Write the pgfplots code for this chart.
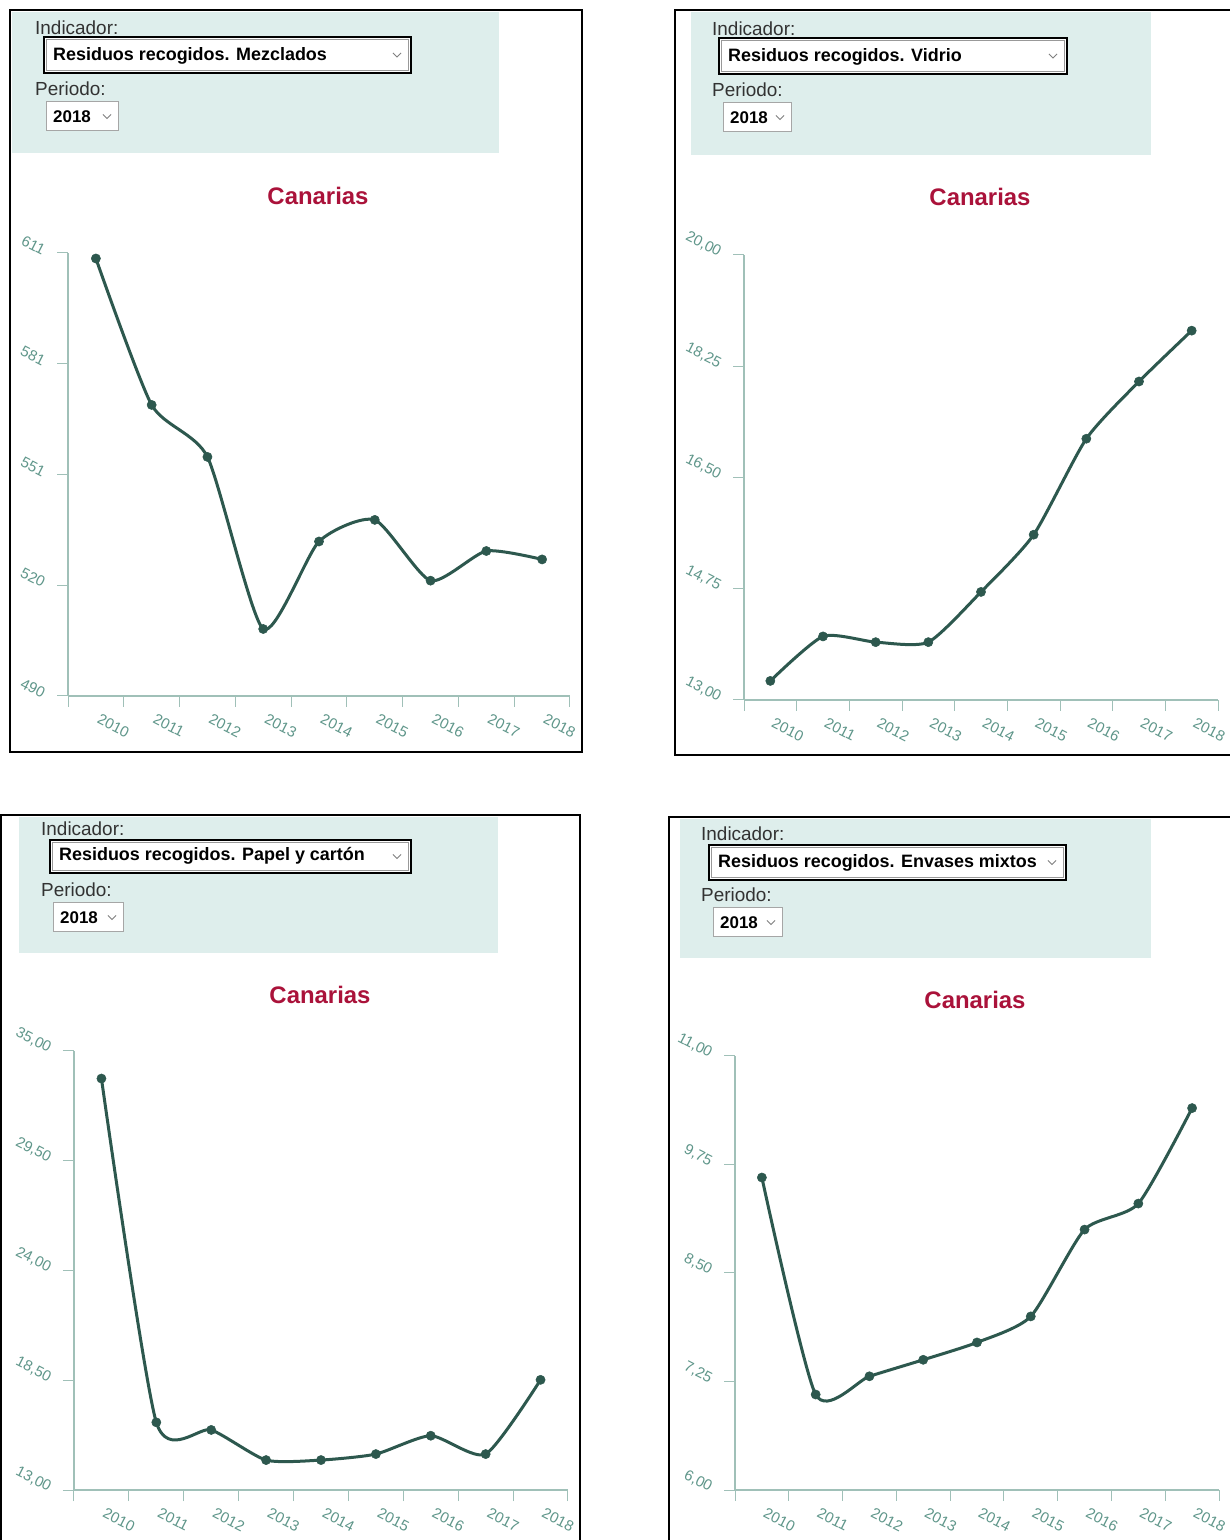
\documentclass[border=0pt]{standalone}
\usepackage{pgfplots}
\pgfplotsset{compat=1.18}
\usepackage{fontspec}
\setmainfont{Liberation Sans}
\setsansfont{Liberation Sans}
\definecolor{boxbg}{RGB}{222,238,236}
\definecolor{linec}{RGB}{45,88,78}
\definecolor{axc}{RGB}{160,192,184}
\definecolor{tickc}{RGB}{95,150,138}
\definecolor{titc}{RGB}{170,18,58}
\definecolor{labc}{RGB}{50,50,50}

\pgfplotsset{
  panel/.style={
    scale only axis, clip=false, anchor=south west,
    axis x line*=bottom, axis y line*=left,
    axis line style={draw=axc, line width=1.2bp},
    tick style={draw=axc, line width=1bp},
    major tick length=11bp, tick align=outside,
    xmin=-0.5, xmax=8.5,
    xtick={-0.5,0.5,...,8.5}, xticklabels={},
    extra x ticks={0,1,2,3,4,5,6,7,8},
    extra x tick labels={2010,2011,2012,2013,2014,2015,2016,2017,2018},
    extra x tick style={tick style={draw=none}},
    xticklabel style={font=\fontsize{15}{15}\selectfont, text=tickc, rotate=-27, anchor=north west, xshift=4bp, yshift=0bp},
    yticklabel style={font=\fontsize{15}{15}\selectfont, text=tickc, rotate=-27, anchor=east, xshift=-9bp, yshift=-4bp},
    /pgf/number format/assume math mode=true,
  },
  ser/.style={smooth, tension=0.38, color=linec, line width=3bp, mark=*, mark size=4.6bp,
    mark options={fill=linec, draw=linec, line width=0.5bp}},
}

\newcommand{\dropdown}[5]{%
  \fill[white] (#1,#2) rectangle (#3,#4);
  \draw[black, line width=1.4bp] (#1,#2) rectangle (#3,#4);
  \draw[gray!80, line width=0.9bp] ({#1+2.5},{#2+2.5}) rectangle ({#3-2.5},{#4-2.5});
  \node[anchor=base west, inner sep=0, font=\bfseries\fontsize{18}{18}\selectfont] at ({#1+9},{#4-12}) {#5};
  \draw[gray, line width=0.8bp] ({#3-18},{(#2+#4)/2-2}) -- ({#3-14},{(#2+#4)/2+2}) -- ({#3-10},{(#2+#4)/2-2});
}
\newcommand{\yearbox}[4]{%
  \fill[white] (#1,#2) rectangle (#3,#4);
  \draw[gray!70, line width=1bp] (#1,#2) rectangle (#3,#4);
  \node[anchor=base west, inner sep=0, font=\bfseries\fontsize{17}{18}\selectfont] at ({#1+7},{#4-8}) {2018};
  \draw[gray, line width=0.8bp] ({#3-15},{(#2+#4)/2-2}) -- ({#3-11},{(#2+#4)/2+2}) -- ({#3-7},{(#2+#4)/2-2});
}
\newcommand{\lab}[3]{\node[anchor=base west, inner sep=0, font=\fontsize{19}{20}\selectfont, text=labc] at (#1,#2) {#3};}

\begin{document}
\begin{tikzpicture}
\useasboundingbox (0,0) rectangle (1230bp,1540bp);
\fill[white] (0,0) rectangle (1230bp,1540bp);

\begin{scope}[x=1bp, y=-1bp, yshift=1540bp]
  % Panel 1
  \fill[boxbg] (12,12) rectangle (499,153);
  \draw[black, line width=2.5bp] (10,10) rectangle (582,752);
  \lab{35}{35}{Indicador:}
  \dropdown{44}{37}{411}{73}{Residuos recogidos. Mezclados}
  \lab{35}{96}{Periodo:}
  \yearbox{46}{102}{118}{131}
  \node[font=\bfseries\fontsize{24}{26}\selectfont, text=titc] at (318,196) {Canarias};
  % Panel 2
  \fill[boxbg] (691,12) rectangle (1151,155);
  \draw[black, line width=2.5bp] (675,10) rectangle (1234,755);
  \lab{712}{36}{Indicador:}
  \dropdown{719}{38}{1067}{74}{Residuos recogidos. Vidrio}
  \lab{712}{97}{Periodo:}
  \yearbox{723}{103}{791}{132}
  \node[font=\bfseries\fontsize{24}{26}\selectfont, text=titc] at (980,197) {Canarias};
  % Panel 3
  \fill[boxbg] (19,817) rectangle (498,953);
  \draw[black, line width=2.5bp] (1,815) rectangle (580,1545);
  \lab{41}{836}{Indicador:}
  \dropdown{50}{840}{411}{873}{Residuos recogidos. Papel y cartón}
  \lab{41}{897}{Periodo:}
  \yearbox{53}{903}{123}{932}
  \node[font=\bfseries\fontsize{24}{26}\selectfont, text=titc] at (320,995) {Canarias};
  % Panel 4
  \fill[boxbg] (680,819) rectangle (1151,958);
  \draw[black, line width=2.5bp] (669,817) rectangle (1234,1545);
  \lab{701}{841}{Indicador:}
  \dropdown{709}{845}{1066}{880}{Residuos recogidos. Envases mixtos}
  \lab{701}{902}{Periodo:}
  \yearbox{713}{908}{782}{937}
  \node[font=\bfseries\fontsize{24}{26}\selectfont, text=titc] at (975,1000) {Canarias};
\end{scope}

% Panel 1 axis: Mezclados
\begin{axis}[panel, at={(68bp,844bp)}, width=502bp, height=443bp,
  ymin=490, ymax=611, ytick={490,520.25,550.5,580.75,611},
  yticklabels={490,520,551,581,611}]
\addplot[ser] coordinates {(0,609.5) (1,569.5) (2,555.3) (3,508.3) (4,532.2) (5,538.1) (6,521.5) (7,529.6) (8,527.3)};
\end{axis}

% Panel 2 axis: Vidrio
\begin{axis}[panel, at={(744bp,840bp)}, width=474bp, height=445bp,
  ymin=13, ymax=20, ytick={13,14.75,16.5,18.25,20},
  yticklabels={{13,00},{14,75},{16,50},{18,25},{20,00}}]
\addplot[ser] coordinates {(0,13.30) (1,14.00) (2,13.91) (3,13.91) (4,14.70) (5,15.60) (6,17.11) (7,18.01) (8,18.81)};
\end{axis}

% Panel 3 axis: Papel y carton
\begin{axis}[panel, at={(74bp,50bp)}, width=494bp, height=439bp,
  ymin=13, ymax=35, ytick={13,18.5,24,29.5,35},
  yticklabels={{13,00},{18,50},{24,00},{29,50},{35,00}}]
\addplot[ser] coordinates {(0,33.62) (1,16.39) (2,16.01) (3,14.50) (4,14.50) (5,14.80) (6,15.72) (7,14.80) (8,18.52)};
\end{axis}

% Panel 4 axis: Envases mixtos
\begin{axis}[panel, at={(735bp,50bp)}, width=484bp, height=434bp,
  ymin=6, ymax=11, ytick={6,7.25,8.5,9.75,11},
  yticklabels={{6,00},{7,25},{8,50},{9,75},{11,00}}]
\addplot[ser] coordinates {(0,9.60) (1,7.10) (2,7.31) (3,7.50) (4,7.70) (5,8.00) (6,9.00) (7,9.30) (8,10.40)};
\end{axis}
\end{tikzpicture}
\end{document}
